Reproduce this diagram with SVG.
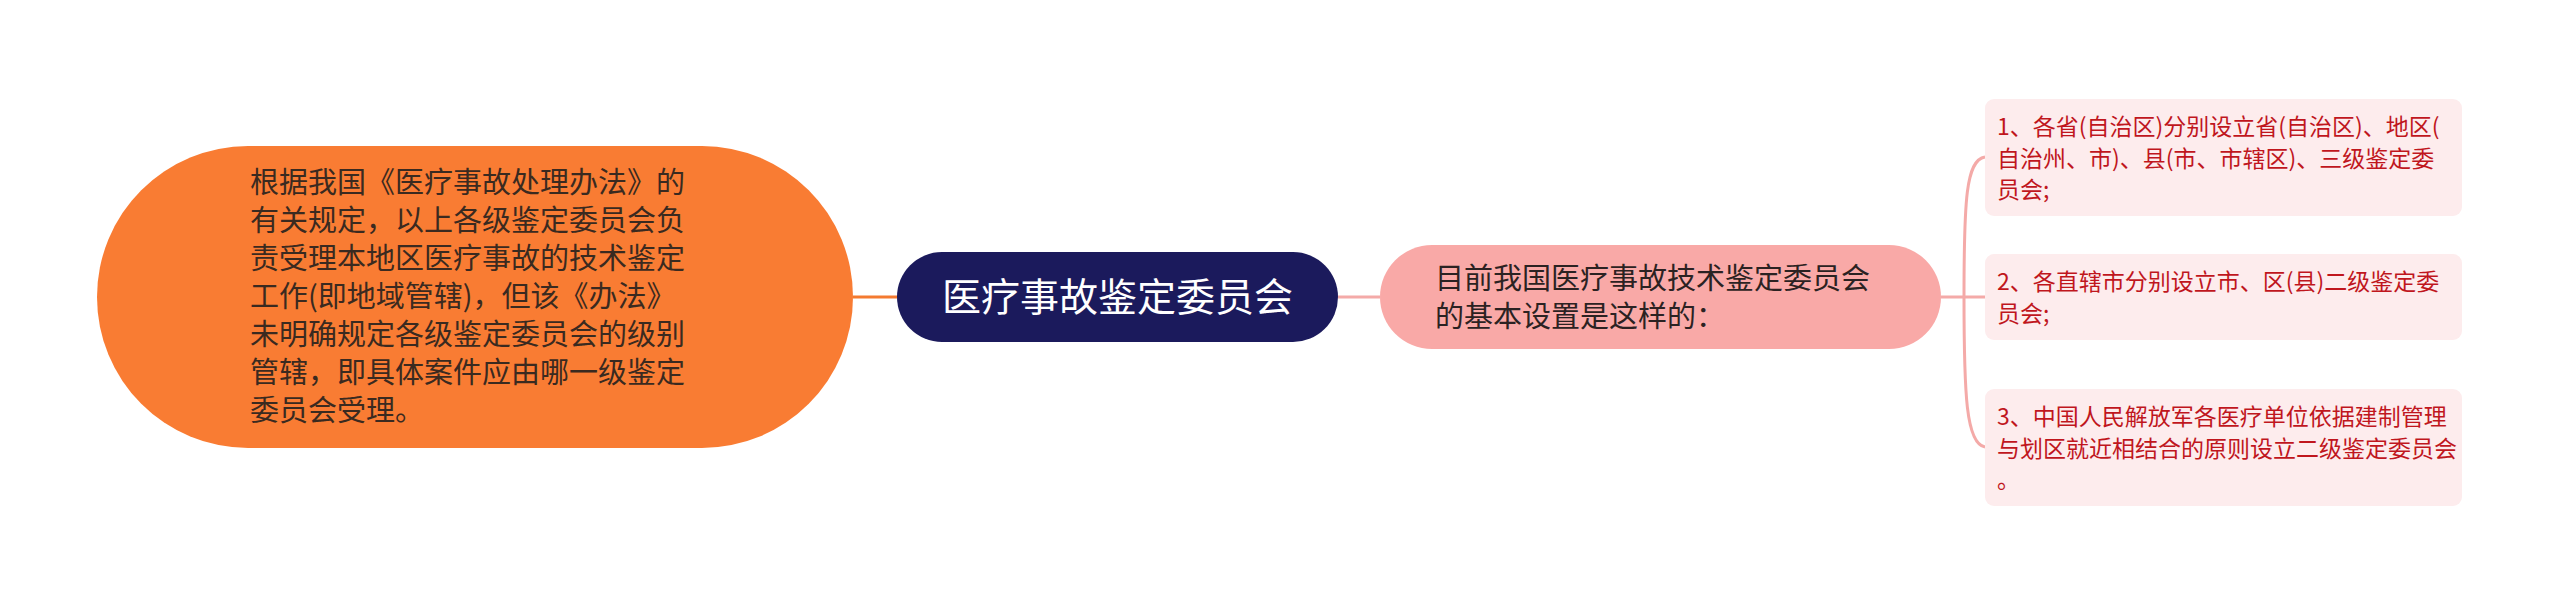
<svg xmlns="http://www.w3.org/2000/svg" width="2560" height="595" viewBox="0 0 2560 595">
<style>
text{font-family:"Noto Sans CJK SC","Noto Sans",sans-serif;}
.t-orange{font-size:29px;fill:#3a2a20;}
.t-root{font-size:39px;fill:#ffffff;}
.t-pink{font-size:29px;fill:#2b2222;}
.t-leaf{font-size:23px;fill:#c0161d;}
.leaf{fill:#fdeced;}
.c-orange{stroke:#f47a30;stroke-width:3;fill:none;}
.c-pink{stroke:#f4aaa8;stroke-width:3;fill:none;}
</style>
<rect width="2560" height="595" fill="#ffffff"/>
<g id="connectors">
<path class="c-orange" d="M853 297 H897"/>
<path class="c-pink" d="M1338 297 H1380"/>
<path class="c-pink" d="M1941 297 H1985"/>
<path class="c-pink" d="M1964 297 C1964 200 1966 160 1985 157"/>
<path class="c-pink" d="M1964 297 C1964 394 1966 444 1985 447"/>
</g>
<g id="node-left">
<rect x="97" y="146" width="756" height="302" rx="151" fill="#f97c33"/>
<text class="t-orange" x="250" y="193">根据我国《医疗事故处理办法》的</text>
<text class="t-orange" x="250" y="231">有关规定，以上各级鉴定委员会负</text>
<text class="t-orange" x="250" y="269">责受理本地区医疗事故的技术鉴定</text>
<text class="t-orange" x="250" y="307">工作(即地域管辖)，但该《办法》</text>
<text class="t-orange" x="250" y="345">未明确规定各级鉴定委员会的级别</text>
<text class="t-orange" x="250" y="383">管辖，即具体案件应由哪一级鉴定</text>
<text class="t-orange" x="250" y="421">委员会受理。</text>
</g>
<g id="node-root">
<rect x="897" y="252" width="441" height="90" rx="45" fill="#1b1a5c"/>
<text class="t-root" x="1117.5" y="311" text-anchor="middle">医疗事故鉴定委员会</text>
</g>
<g id="node-pink">
<rect x="1380" y="245" width="561" height="104" rx="52" fill="#f9a9a7"/>
<text class="t-pink" x="1435" y="289">目前我国医疗事故技术鉴定委员会</text>
<text class="t-pink" x="1435" y="327">的基本设置是这样的：</text>
</g>
<g id="leaf-1">
<rect class="leaf" x="1985" y="99" width="477" height="117" rx="9"/>
<text class="t-leaf" x="1997" y="135">1、各省(自治区)分别设立省(自治区)、地区(</text>
<text class="t-leaf" x="1997" y="167">自治州、市)、县(市、市辖区)、三级鉴定委</text>
<text class="t-leaf" x="1997" y="198">员会;</text>
</g>
<g id="leaf-2">
<rect class="leaf" x="1985" y="254" width="477" height="86" rx="9"/>
<text class="t-leaf" x="1997" y="290">2、各直辖市分别设立市、区(县)二级鉴定委</text>
<text class="t-leaf" x="1997" y="322">员会;</text>
</g>
<g id="leaf-3">
<rect class="leaf" x="1985" y="389" width="477" height="117" rx="9"/>
<text class="t-leaf" x="1997" y="425">3、中国人民解放军各医疗单位依据建制管理</text>
<text class="t-leaf" x="1997" y="457">与划区就近相结合的原则设立二级鉴定委员会</text>
<text class="t-leaf" x="1997" y="488">。</text>
</g>
</svg>
